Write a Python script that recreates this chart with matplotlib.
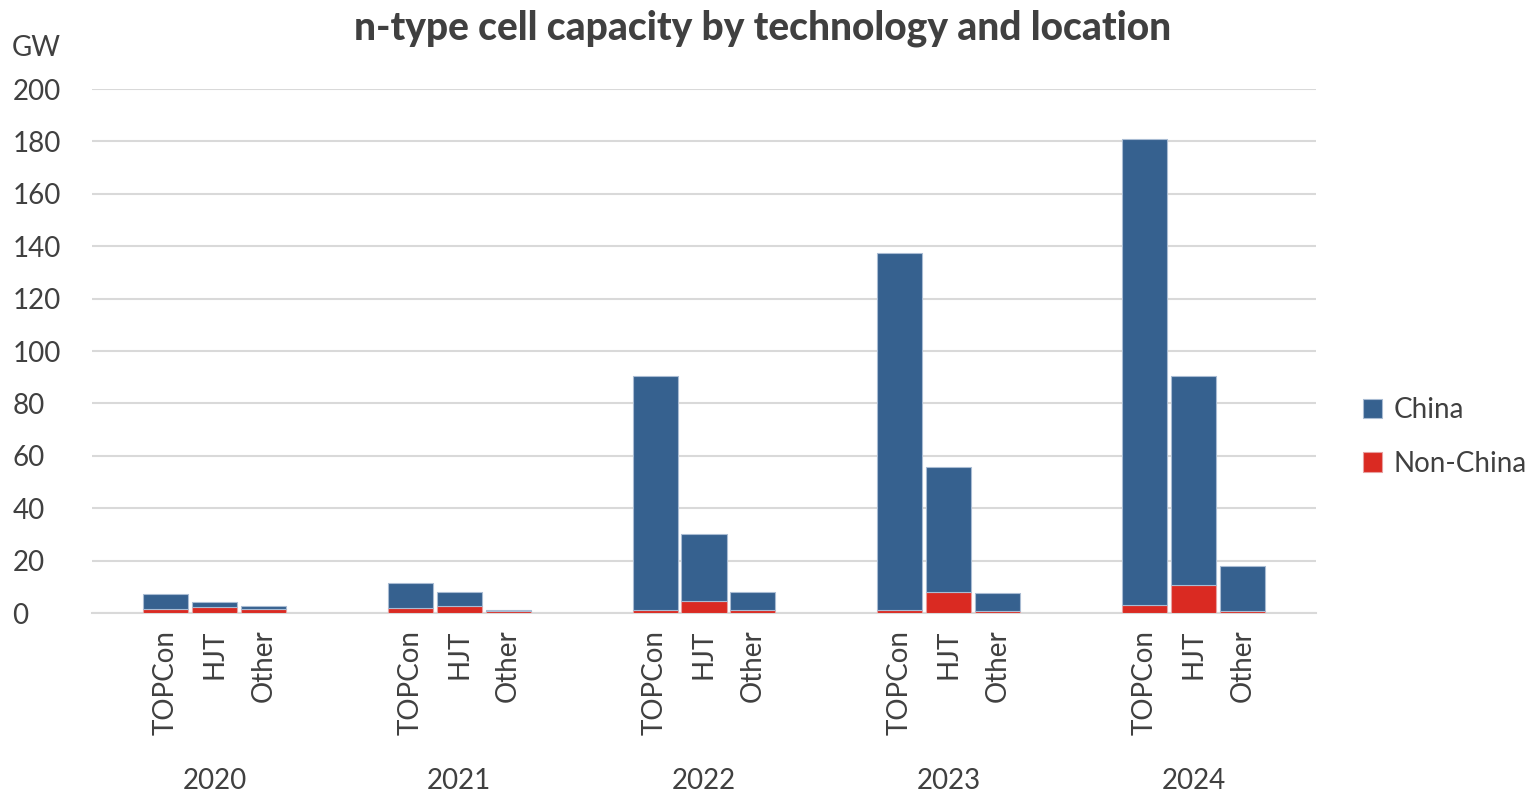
import matplotlib
matplotlib.use("Agg")
import matplotlib.pyplot as plt
import numpy as np

years = ["2020", "2021", "2022", "2023", "2024"]
techs = ["TOPCon", "HJT", "Other"]
# values per year, per technology (GW)
non_china = [
    [1.6, 2.2, 1.5],
    [1.8, 2.6, 0.8],
    [1.3, 4.6, 1.1],
    [1.3, 8.2, 0.8],
    [2.9, 10.8, 0.8],
]
total = [
    [7.2, 4.3, 2.7],
    [11.5, 8.2, 1.3],
    [90.5, 30.2, 8.0],
    [137.4, 55.7, 7.7],
    [181.0, 90.5, 17.9],
]
china = [[t - n for t, n in zip(tr, nr)] for tr, nr in zip(total, non_china)]

plt.rcParams['font.family'] = ['Lato', 'DejaVu Sans']
fig = plt.figure(figsize=(15.36, 7.94), dpi=100)
ax = fig.add_axes([92/1536, 1-613/794, 1224/1536, 524/794])

blue = "#36618F"
red = "#DA2A22"
tc = "#404040"
slots_per_group = 5
xs, cn, nc, labels = [], [], [], []
for gi, y in enumerate(years):
    for ti, t in enumerate(techs):
        xs.append(gi*slots_per_group + 1 + ti)
        cn.append(china[gi][ti])
        nc.append(non_china[gi][ti])
        labels.append(t)

ax.bar(xs, nc, width=0.92, color=red, edgecolor="#E8A0A0", linewidth=0.8, label="Non-China", zorder=3)
ax.bar(xs, cn, bottom=nc, width=0.92, color=blue, edgecolor="#A9BCD3", linewidth=0.8, label="China", zorder=3)

ax.set_xlim(-0.5, 5*slots_per_group - 0.5)
ax.set_ylim(0, 200)
ax.set_yticks(np.arange(0, 201, 20))
ax.yaxis.grid(True, color="#D9D9D9", linewidth=1.5, zorder=0)
ax.set_axisbelow(True)
for s in ["top", "right", "left"]:
    ax.spines[s].set_visible(False)
ax.spines["bottom"].set_color("#D9D9D9")
ax.spines["bottom"].set_linewidth(1.5)
ax.tick_params(axis="y", length=0, labelsize=20, labelcolor=tc, pad=0)
ax.tick_params(axis="x", length=0, labelsize=20, labelcolor=tc, pad=12)
ax.set_xticks(xs)
ax.set_xticklabels(labels, rotation=90, va="top")
for lab in ax.get_yticklabels():
    lab.set_horizontalalignment("left")
    lab.set_x(-0.065)

for gi, y in enumerate(years):
    ax.text(gi*slots_per_group + 2, -64, y, ha="center", va="center",
            fontsize=20, color=tc, transform=ax.transData, clip_on=False)

fig.text(12/1536, 1-48/794, "GW", fontsize=20, color=tc, va="center", ha="left")
fig.text(763/1536, 1-28/794, "n-type cell capacity by technology and location",
         fontsize=28, fontweight="black", color=tc, ha="center", va="center")

h, l = ax.get_legend_handles_labels()
fig.legend(h[::-1], l[::-1], loc="center left", bbox_to_anchor=(1363/1536, 1-437/794),
           frameon=False, fontsize=20, labelcolor=tc, handlelength=0.7, handleheight=0.7,
           handletextpad=0.4, labelspacing=1.0, borderaxespad=0, borderpad=0)

fig.savefig("out.png", dpi=100)
